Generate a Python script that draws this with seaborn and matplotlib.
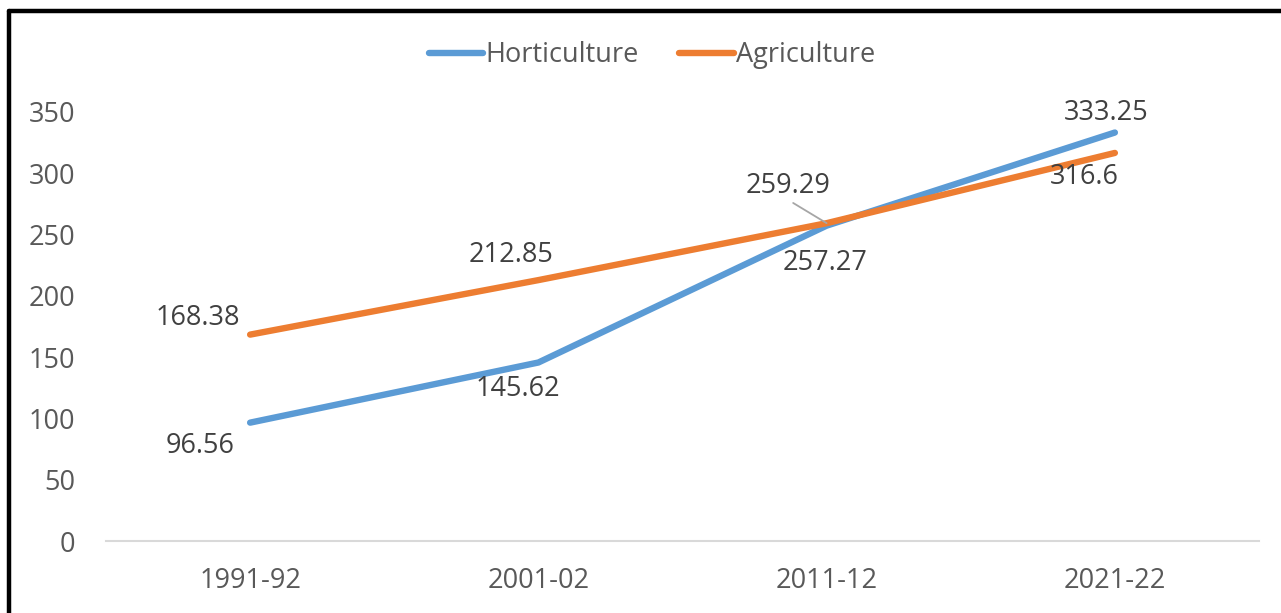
import pandas as pd
import matplotlib.pyplot as plt
import seaborn as sns

# 데이터
years = ['1991-92', '2001-02', '2011-12', '2021-22']
horticulture = [96.56, 145.62, 257.27, 333.25]
agriculture = [168.38, 212.85, 259.29, 316.6]

# 라벨 위치 (offset, points)
hort_offsets = [(-36, -17), (-15, -19), (-1, -27), (-6, 14)]
agri_offsets = [(-38, 12), (-20, 18), (-28, 27), (-22, -17)]

sns.set_style('white')
plt.rcParams['font.family'] = ['Open Sans', 'DejaVu Sans']

BLUE = '#5B9BD5'
ORANGE = '#ED7D31'
TEXT = '#595959'
LABEL = '#404040'
FS = 19.5


def main():
    df = pd.DataFrame({
        'year': years * 2,
        'value': horticulture + agriculture,
        'series': ['Horticulture'] * len(years) + ['Agriculture'] * len(years),
    })

    fig = plt.figure(figsize=(12.81, 6.13), dpi=100)
    ax = fig.add_axes([106 / 1281, 1 - 541 / 613, (1259 - 106) / 1281, (541 - 112) / 613])

    sns.lineplot(data=df, x='year', y='value', hue='series',
                 palette={'Horticulture': BLUE, 'Agriculture': ORANGE},
                 linewidth=4.6, ax=ax, legend=False, sort=False,
                 solid_capstyle='round')

    ax.set_xlim(-0.5, 3.5)
    ax.set_ylim(0, 350)
    ax.set_yticks(range(0, 351, 50))
    ax.set_xlabel('')
    ax.set_ylabel('')
    for s in ['top', 'right', 'left']:
        ax.spines[s].set_visible(False)
    ax.spines['bottom'].set_color('#D9D9D9')
    ax.spines['bottom'].set_linewidth(1.5)
    ax.tick_params(axis='both', length=0, labelsize=FS, colors=TEXT)
    ax.tick_params(axis='y', pad=22)
    ax.tick_params(axis='x', pad=19)

    # 데이터 라벨
    for i, v in enumerate(horticulture):
        ax.annotate(f"{v:g}", (i, v), xytext=hort_offsets[i], textcoords='offset points',
                    ha='center', va='center', fontsize=FS, color=LABEL, annotation_clip=False)
    for i, v in enumerate(agriculture):
        kw = {}
        if i == 2:
            kw['arrowprops'] = dict(arrowstyle='-', color='#A6A6A6', lw=1.3, shrinkA=0, shrinkB=0,
                                    relpos=(0.5, 0))
        ax.annotate(f"{v:g}", (i, v), xytext=agri_offsets[i], textcoords='offset points',
                    ha='center', va='center', fontsize=FS, color=LABEL, annotation_clip=False, **kw)

    # 범례
    handles = [plt.Line2D([], [], color=BLUE, lw=4.6, solid_capstyle='round'),
               plt.Line2D([], [], color=ORANGE, lw=4.6, solid_capstyle='round')]
    leg = fig.legend(handles, ['Horticulture', 'Agriculture'], loc='center',
                     bbox_to_anchor=(652 / 1281, 1 - 55 / 613), ncol=2, frameon=False,
                     fontsize=FS, handlelength=2.0, handletextpad=0.1, columnspacing=1.5)
    for t in leg.get_texts():
        t.set_color(TEXT)

    # 테두리
    fig.add_artist(plt.Line2D([9 / 1281, 1], [1 - 10.5 / 613] * 2, transform=fig.transFigure,
                              color='black', lw=3.2))
    fig.add_artist(plt.Line2D([9 / 1281] * 2, [0, 1 - 10.5 / 613], transform=fig.transFigure,
                              color='black', lw=3.2))

    fig.savefig('out.png', dpi=100)
    plt.close()


if __name__ == "__main__":
    main()
